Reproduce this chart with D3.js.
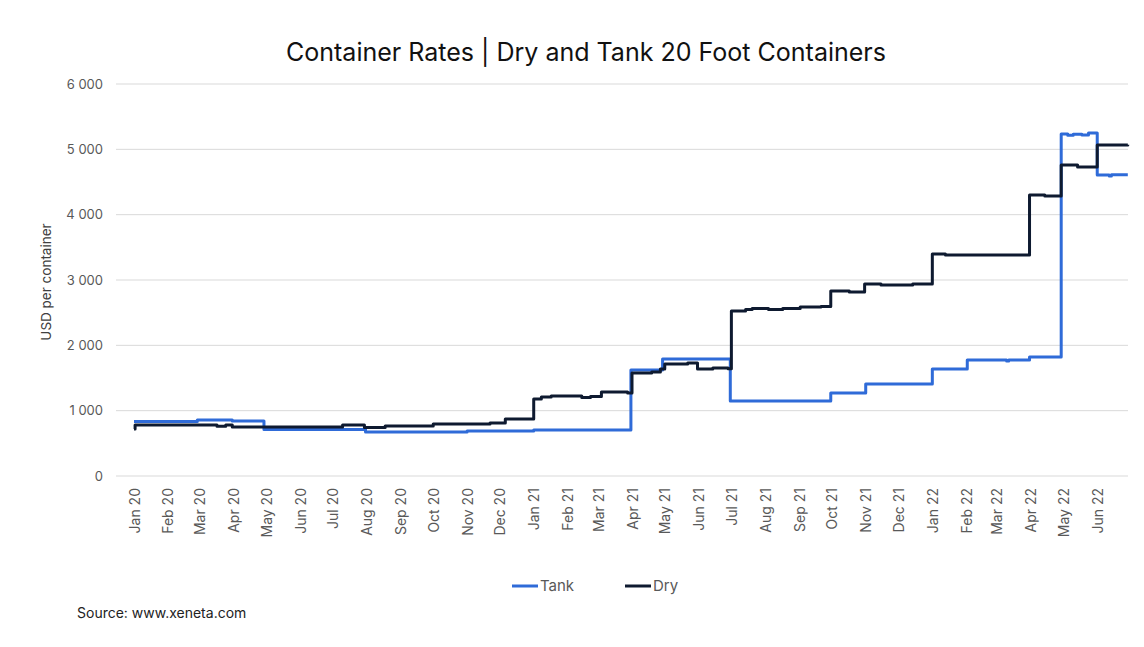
<!DOCTYPE html>
<html>
<head>
<meta charset="utf-8">
<script src="https://cdn.jsdelivr.net/npm/d3@7"></script>
<style>
  html, body { margin: 0; padding: 0; background: #fff; }
  svg { display: block; font-family: "Inter", "Lato", sans-serif; }
</style>
</head>
<body>
<svg id="chart" width="1144" height="647"></svg>
<script>
// ---- data (step-change points) ----
const tankDates = ["2020-01-01","2020-02-28","2020-03-31","2020-04-29","2020-07-31","2020-11-01","2021-01-01","2021-03-31","2021-04-29","2021-06-30","2021-09-30","2021-11-01","2022-01-01","2022-02-02","2022-03-10","2022-03-12","2022-03-31","2022-04-29","2022-05-05","2022-05-10","2022-05-18","2022-05-24","2022-06-01","2022-06-12","2022-06-14","2022-06-29"];
const tankValues = [835, 857, 842, 712, 673, 689, 704, 1622, 1791, 1148, 1270, 1408, 1638, 1775, 1760, 1775, 1820, 5235, 5215, 5230, 5220, 5250, 4607, 4590, 4610, 4610];

const dryDates = ["2020-01-01","2020-01-02","2020-03-17","2020-03-25","2020-03-31","2020-07-10","2020-07-30","2020-08-18","2020-10-01","2020-11-22","2020-12-06","2021-01-01","2021-01-08","2021-01-17","2021-02-14","2021-02-22","2021-03-04","2021-03-28","2021-04-01","2021-04-19","2021-04-27","2021-05-01","2021-05-22","2021-05-31","2021-06-14","2021-06-28","2021-07-01","2021-07-14","2021-07-20","2021-08-04","2021-08-17","2021-09-02","2021-09-21","2021-09-30","2021-10-17","2021-10-31","2021-11-15","2021-12-14","2022-01-01","2022-01-13","2022-03-31","2022-04-14","2022-04-29","2022-05-14","2022-06-01","2022-06-29"];
const dryValues = [720, 782, 760, 780, 750, 780, 742, 765, 796, 811, 872, 1179, 1209, 1225, 1200, 1215, 1286, 1270, 1577, 1592, 1638, 1714, 1730, 1638, 1653, 1640, 2526, 2548, 2565, 2548, 2565, 2587, 2595, 2832, 2816, 2939, 2924, 2939, 3398, 3383, 4301, 4286, 4760, 4730, 5067, 5070];

const yTicks = [0, 1000, 2000, 3000, 4000, 5000, 6000];
const seriesNames = ["Tank", "Dry"];
const seriesColors = ["#2f6bd8", "#0e1a30"];

// ---- layout ----
const svg = d3.select("#chart");
const parse = d3.utcParse("%Y-%m-%d");
const x = d3.scaleUtc()
  .domain([parse("2020-01-01"), parse("2022-07-01")])
  .range([134, 1130]);
const y = d3.scaleLinear().domain([0, 6000]).range([476, 84]);

const locale = d3.formatLocale({decimal: ".", thousands: "\u2009", grouping: [3], currency: ["", ""]});
const fmtY = d => locale.format(",")(d).replace("\u2009", " ");

// title
const title = svg.append("text")
  .attr("x", 586).attr("y", 61)
  .attr("text-anchor", "middle")
  .attr("fill", "#111")
  .style("font-size", "22px")
  .text("Container Rates | Dry and Tank 20 Foot Containers");
const tw = title.node().getComputedTextLength();
title.style("font-size", (22 * 600 / tw).toFixed(2) + "px");

// gridlines
svg.append("g").selectAll("line").data(yTicks).join("line")
  .attr("x1", 116).attr("x2", 1128)
  .attr("y1", d => y(d)).attr("y2", d => y(d))
  .attr("stroke", "#d9d9d9").attr("stroke-width", 1);

// y tick labels
svg.append("g").selectAll("text").data(yTicks).join("text")
  .attr("x", 103).attr("y", d => y(d))
  .attr("dy", "0.35em")
  .attr("text-anchor", "end")
  .attr("fill", "#595959")
  .style("font-size", "13px")
  .text(fmtY);

// y axis title
svg.append("text")
  .attr("transform", "translate(46,282) rotate(-90)")
  .attr("text-anchor", "middle")
  .attr("dominant-baseline", "central")
  .attr("fill", "#404040")
  .style("font-size", "13.5px")
  .text("USD per container");

// x tick labels
const months = d3.utcMonth.range(parse("2020-01-01"), parse("2022-07-01"));
const fmtX = d3.utcFormat("%b %y");
svg.append("g").selectAll("text").data(months).join("text")
  .attr("transform", d => `translate(${x(d)},488) rotate(-90)`)
  .attr("text-anchor", "end")
  .attr("dominant-baseline", "central")
  .attr("fill", "#595959")
  .style("font-size", "14px")
  .text(fmtX);

// lines
const line = d3.line()
  .x(d => x(d.date)).y(d => y(d.value))
  .curve(d3.curveStepAfter);
const tankData = tankDates.map((d, i) => ({date: parse(d), value: tankValues[i]}));
const dryData = dryDates.map((d, i) => ({date: parse(d), value: dryValues[i]}));

svg.append("path").datum(tankData)
  .attr("d", line).attr("fill", "none")
  .attr("stroke", seriesColors[0]).attr("stroke-width", 3)
  .attr("stroke-linejoin", "round");
svg.append("path").datum(dryData)
  .attr("d", line).attr("fill", "none")
  .attr("stroke", seriesColors[1]).attr("stroke-width", 3)
  .attr("stroke-linejoin", "round");

// legend
const legendX = [512, 625];
const lg = svg.append("g").selectAll("g").data(seriesNames).join("g")
  .attr("transform", (d, i) => `translate(${legendX[i]},586)`);
lg.append("line").attr("x1", 0).attr("x2", 26).attr("y1", 0).attr("y2", 0)
  .attr("stroke", (d, i) => seriesColors[i]).attr("stroke-width", 3);
lg.append("text").attr("x", 28).attr("dy", "0.35em")
  .attr("fill", "#595959").style("font-size", "15px")
  .text(d => d);

// source
svg.append("text")
  .attr("x", 77).attr("y", 618)
  .attr("fill", "#222")
  .style("font-size", "14px")
  .text("Source: www.xeneta.com");
</script>
</body>
</html>
